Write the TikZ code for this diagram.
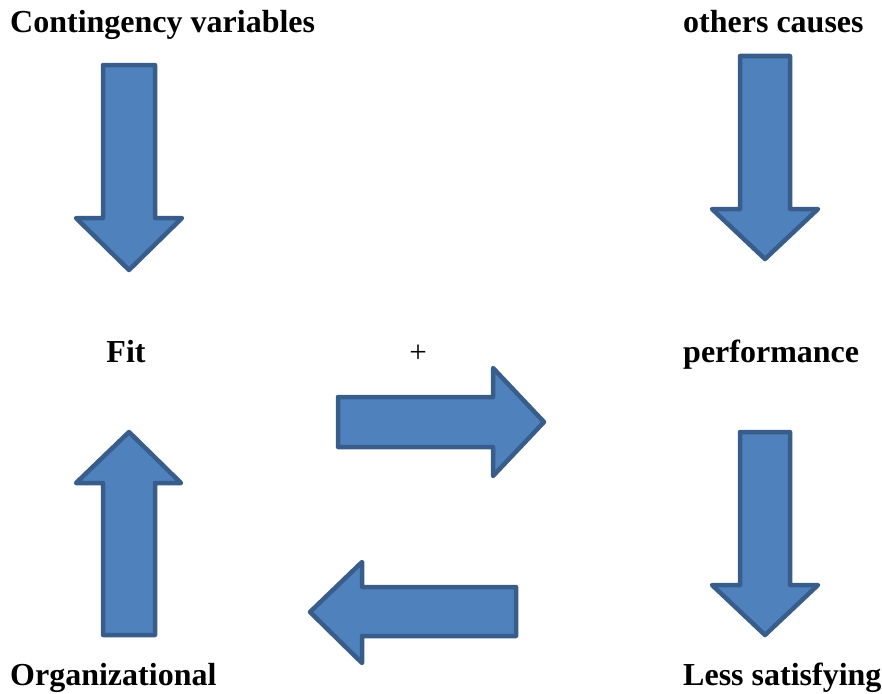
\documentclass[tikz,border=0pt]{standalone}
\usepackage{fontspec}
\setmainfont{Liberation Serif}
\definecolor{arrfill}{HTML}{4F81BD}
\definecolor{arrline}{HTML}{385D8A}
\begin{document}
\begin{tikzpicture}[x=1pt,y=-1pt,
  blockarrow/.style={fill=arrfill,draw=arrline,line width=4.5pt,line join=round},
  lbl/.style={anchor=base west,inner sep=0pt,font=\fontsize{32}{36}\selectfont\bfseries}]
\useasboundingbox (0,0) rectangle (882,693);
% texts
\node[lbl] (cv) at (10,33) {Contingency variables};
\node[lbl] (oc) at (683,33) {others causes};
\node[lbl,anchor=base] (fit) at (126,362) {Fit};
\node[anchor=base,inner sep=0pt,font=\fontsize{31}{36}\selectfont] (plus) at (418,362) {+};
\node[lbl] (perf) at (683,362) {performance};
\node[lbl] (org) at (10,685) {Organizational};
\node[lbl] (less) at (683,685) {Less satisfying};
% arrows
\draw[blockarrow] (103,65) -- (155,65) -- (155,218) -- (182,218) -- (129,270) -- (76,218) -- (103,218) -- cycle;
\draw[blockarrow] (740,56) -- (790,56) -- (790,209) -- (818,209) -- (765,259) -- (712,209) -- (740,209) -- cycle;
\draw[blockarrow] (740,432) -- (790,432) -- (790,585) -- (818,585) -- (765,635) -- (712,585) -- (740,585) -- cycle;
\draw[blockarrow] (103,635) -- (155,635) -- (155,483) -- (181,483) -- (129,432) -- (76,483) -- (103,483) -- cycle;
\draw[blockarrow] (338,397) -- (493,397) -- (493,368) -- (544,422) -- (493,476) -- (493,447) -- (338,447) -- cycle;
\draw[blockarrow] (516,587) -- (362,587) -- (362,562) -- (310,612) -- (362,663) -- (362,636) -- (516,636) -- cycle;
\end{tikzpicture}
\end{document}
